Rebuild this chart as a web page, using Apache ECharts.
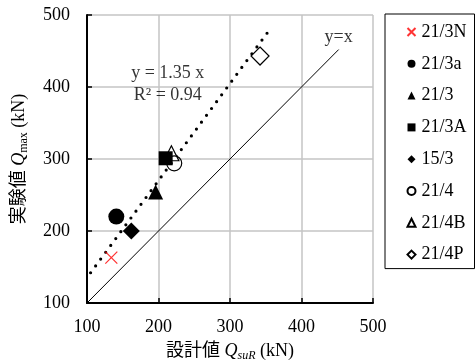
<!DOCTYPE html>
<html>
<head>
<meta charset="utf-8">
<script src="https://cdn.jsdelivr.net/npm/echarts@6/dist/echarts.min.js"></script>
<style>html,body{margin:0;padding:0;background:#fff}#c{width:476px;height:360px}</style>
</head>
<body>
<div id="c"></div>
<script>
// ---- data ----
const seriesNames = ['21/3N', '21/3a', '21/3', '21/3A', '15/3', '21/4', '21/4B', '21/4P'];
const pts_21_3N = [[134, 163]];
const pts_21_3a = [[141, 220]];
const pts_21_3 = [[196, 254]];
const pts_21_3A = [[210, 301]];
const pts_15_3 = [[162, 200]];
const pts_21_4 = [[222, 294]];
const pts_21_4B = [[218, 308]];
const pts_21_4P = [[342, 443]];
const trendLine = [[105, 142], [352, 475]];
const identityLine = [[100, 100], [452, 452]];
const annotations = [[213, 419, 'y = 1.35 x'], [213, 389, 'R\u00b2 = 0.94'], [452, 469, 'y=x']];
const axisTicks = [100, 200, 300, 400, 500];

const FONT = '"Liberation Serif", "Times New Roman", "Noto Sans CJK JP", serif';
const crossPath = 'path://M0,0 L10,10 M10,0 L0,10';

const chart = echarts.init(document.getElementById('c'), null, {renderer: 'canvas'});

function sc(name, data, symbol, size, color, fill, z) {
  return {
    name: name, type: 'scatter', data: data, symbol: symbol, symbolSize: size,
    itemStyle: fill ? {color: fill, borderColor: color, borderWidth: 1.2, opacity: 1}
                    : {color: color, opacity: 1},
    z: z || 5
  };
}

const axisCommon = {
  type: 'value', min: axisTicks[0], max: axisTicks[axisTicks.length - 1], interval: 100,
  axisLine: {show: true, lineStyle: {color: '#000', width: 2}},
  axisTick: {show: true, inside: true, length: 5, lineStyle: {color: '#000', width: 1.5}},
  splitLine: {show: true, lineStyle: {color: '#c4c4c4', width: 1.5}},
  axisLabel: {color: '#000', fontFamily: FONT, fontSize: 18},
  nameLocation: 'middle',
  nameTextStyle: {color: '#000', fontFamily: FONT}
};

const richName = {
  a: {fontFamily: FONT, fontSize: 18, color: '#000', lineHeight: 24},
  q: {fontFamily: FONT, fontSize: 18, color: '#000', fontStyle: 'italic', lineHeight: 24},
  s: {fontFamily: FONT, fontSize: 12, color: '#000', lineHeight: 24, padding: [9, 0, 0, 0]},
  si: {fontFamily: FONT, fontSize: 12, color: '#000', fontStyle: 'italic', lineHeight: 24, padding: [9, 0, 0, 0]}
};

const option = {
  animation: false,
  backgroundColor: '#fff',
  grid: {left: 87, right: 103, top: 15, bottom: 57, containLabel: false, outerBoundsMode: 'none'},
  xAxis: Object.assign({}, axisCommon, {
    name: '{a|設計値 }{q|Q}{si|suR}{a| (kN)}', nameGap: 35,
    nameTextStyle: {rich: richName},
    axisLabel: Object.assign({}, axisCommon.axisLabel, {margin: 15})
  }),
  yAxis: Object.assign({}, axisCommon, {
    name: '{a|実験値 }{q|Q}{s|max}{a| (kN)}', nameGap: 56,
    nameTextStyle: {rich: richName},
    axisLabel: Object.assign({}, axisCommon.axisLabel, {margin: 17})
  }),
  legend: {
    orient: 'vertical', left: 385, top: 14,
    data: seriesNames,
    itemWidth: 8, itemHeight: 8, itemGap: 11.8,
    padding: [8, 8, 4, 20],
    borderColor: '#000', borderWidth: 1, borderRadius: 0,
    backgroundColor: '#fff',
    textStyle: {fontFamily: FONT, fontSize: 18, color: '#000', lineHeight: 20, padding: [0, 0, 0, 1]},
    selectedMode: false
  },
  series: [
    {type: 'line', name: 'trend', data: trendLine, symbol: 'none', silent: true,
     lineStyle: {color: '#000', width: 3.2, type: [0, 8.5], cap: 'round'}, z: 3},
    {type: 'line', name: 'yx', data: identityLine, symbol: 'none', silent: true,
     lineStyle: {color: '#000', width: 1}, z: 3},
    {type: 'scatter', name: 'notes', data: annotations, symbolSize: 0, silent: true,
     label: {show: true, position: 'inside', formatter: p => p.value[2],
             fontFamily: FONT, fontSize: 18, color: '#000'}, z: 6},
    Object.assign(sc('21/3N', pts_21_3N, crossPath, 12, 'red', null),
      {itemStyle: {color: 'none', borderColor: 'red', borderWidth: 1.3}}),
    sc('21/3a', pts_21_3a, 'circle', 16, '#000', null),
    sc('21/3', pts_21_3, 'triangle', 15, '#000', null),
    sc('21/3A', pts_21_3A, 'rect', 14, '#000', null, 5),
    sc('15/3', pts_15_3, 'diamond', 17, '#000', null),
    sc('21/4', pts_21_4, 'circle', 15, '#000', 'rgba(255,255,255,0)', 6),
    sc('21/4B', pts_21_4B, 'triangle', 15, '#000', '#fff', 4),
    sc('21/4P', pts_21_4P, 'diamond', 18, '#000', '#fff')
  ]
};
chart.setOption(option);
</script>
</body>
</html>
